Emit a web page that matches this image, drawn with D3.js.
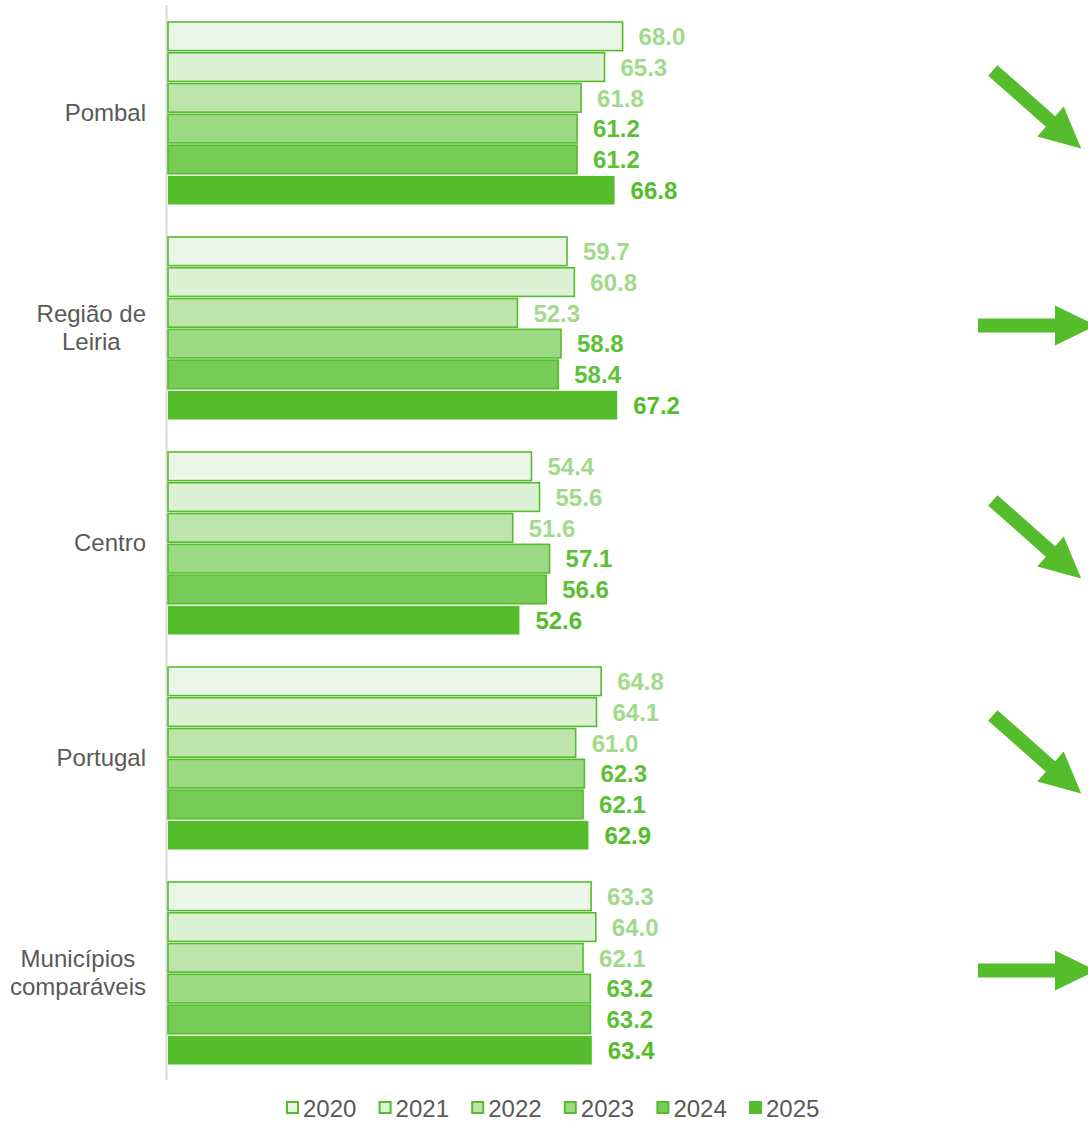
<!DOCTYPE html>
<html><head><meta charset="utf-8">
<script src="https://cdn.jsdelivr.net/npm/d3@7"></script>
<style>
html,body{margin:0;padding:0;background:#fff;}
svg{display:block;font-family:"Liberation Sans",Arial,sans-serif;}
</style></head>
<body>
<svg id="chart" width="1088" height="1122"></svg>
<script>
const categories = ["Pombal", "Região de Leiria", "Centro", "Portugal", "Municípios comparáveis"];
const categoryLines = [["Pombal"], ["Região de", "Leiria"], ["Centro"], ["Portugal"], ["Municípios", "comparáveis"]];
const years = ["2020", "2021", "2022", "2023", "2024", "2025"];
const v2020 = [68.0, 59.7, 54.4, 64.8, 63.3];
const v2021 = [65.3, 60.8, 55.6, 64.1, 64.0];
const v2022 = [61.8, 52.3, 51.6, 61.0, 62.1];
const v2023 = [61.2, 58.8, 57.1, 62.3, 63.2];
const v2024 = [61.2, 58.4, 56.6, 62.1, 63.2];
const v2025 = [66.8, 67.2, 52.6, 62.9, 63.4];
const trends = ["down", "flat", "down", "down", "flat"];

const series = [v2020, v2021, v2022, v2023, v2024, v2025];
const fills = ["#ecf6e8", "#ddf1d5", "#bde5ab", "#9bda83", "#77cb57", "#55bd2b"];
const labelColors = ["#a2da8c", "#a2da8c", "#a2da8c", "#5cc134", "#5cc134", "#55bd2b"];
const green = "#55bd2b";

const svg = d3.select("#chart");
const x = d3.scaleLinear().domain([0, 80]).range([167, 167 + 80 * 6.7]);
const y0 = d3.scaleBand().domain(categories).range([5, 1080]);
const y1 = d3.scaleBand().domain(years).range([17, 199.5]).paddingInner(0.07);

// axis line
svg.append("line").attr("x1", 166.5).attr("x2", 166.5).attr("y1", 5).attr("y2", 1080)
  .attr("stroke", "#d9d9d9").attr("stroke-width", 2);

const g = svg.selectAll("g.cat").data(categories).join("g").attr("class", "cat")
  .attr("transform", d => `translate(0,${y0(d)})`);

years.forEach((yr, j) => {
  g.append("rect")
    .attr("x", x(0) + 1)
    .attr("y", y1(yr))
    .attr("width", (d, i) => x(series[j][i]) - x(0) - 1)
    .attr("height", y1.bandwidth())
    .attr("fill", fills[j])
    .attr("stroke", j === 5 ? "none" : green)
    .attr("stroke-width", 1.6);
  g.append("text")
    .attr("x", (d, i) => x(series[j][i]) + 16)
    .attr("y", y1(yr) + y1.bandwidth() / 2)
    .attr("dy", "0.36em")
    .attr("fill", labelColors[j])
    .attr("font-weight", "bold")
    .attr("font-size", 24)
    .text((d, i) => series[j][i].toFixed(1));
});

// category labels (multi-line centred on their widest line, right edge at 146)
g.each(function(d, i) {
  const lines = categoryLines[i];
  const t = d3.select(this).append("text")
    .attr("text-anchor", "middle").attr("fill", "#595959").attr("font-size", 24);
  const c = y0.bandwidth() / 2;
  const spans = lines.map((ln, k) => t.append("tspan")
      .attr("y", c + (k - (lines.length - 1) / 2) * 28)
      .attr("dy", "0.36em").text(ln));
  const maxW = d3.max(spans, s => s.node().getComputedTextLength());
  spans.forEach(s => s.attr("x", 146 - maxW / 2));
});

// trend arrows
const L = 118, sw = 14, hl = 41, hw = 40;
const arrowPts = [[-L/2, -sw/2], [L/2 - hl, -sw/2], [L/2 - hl, -hw/2], [L/2, 0],
  [L/2 - hl, hw/2], [L/2 - hl, sw/2], [-L/2, sw/2]];
svg.selectAll("path.arrow").data(categories).join("path").attr("class", "arrow")
  .attr("d", d3.line()(arrowPts) + "Z")
  .attr("fill", green)
  .attr("transform", (d, i) => {
    const cy = y0(d) + y0.bandwidth() / 2;
    if (trends[i] === "down") return `translate(1037,${cy - 3}) rotate(41.5)`;
    return `translate(1037,${cy - 2})`;
  });

// legend
const leg = svg.append("g");
years.forEach((yr, j) => {
  const lx = 286 + j * 92.6;
  leg.append("rect").attr("x", lx + 1).attr("y", 1102).attr("width", 11).attr("height", 11)
    .attr("fill", fills[j]).attr("stroke", green).attr("stroke-width", 2);
  leg.append("text").attr("x", lx + 17).attr("y", 1108).attr("dy", "0.36em")
    .attr("font-size", 24).attr("fill", "#595959").text(yr);
});
</script>
</body></html>
